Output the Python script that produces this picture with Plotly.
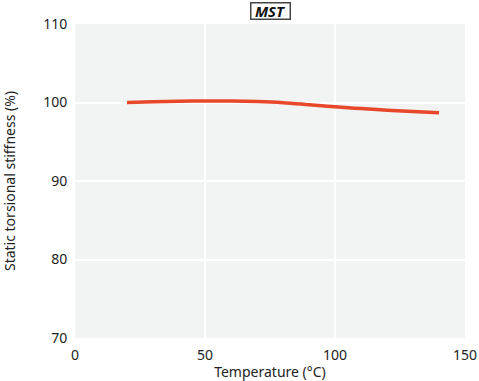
import plotly.graph_objects as go

temperature = [20, 30, 40, 50, 60, 70, 80, 90, 100, 110, 120, 130, 140]
stiffness = [100.0, 100.08, 100.15, 100.2, 100.2, 100.13, 99.98, 99.72, 99.45, 99.22, 99.02, 98.85, 98.7]

fig = go.Figure()
fig.add_trace(go.Scatter(
    x=temperature, y=stiffness, mode="lines",
    line=dict(color="#e8472a", width=3.5, shape="spline"),
    showlegend=False,
))

font_family = "Noto Sans, Open Sans, sans-serif"
fig.update_layout(
    width=479, height=381,
    margin=dict(l=75, r=14, t=24, b=43),
    paper_bgcolor="white",
    plot_bgcolor="#f2f3f3",
    font=dict(family=font_family, size=14, color="#222"),
    xaxis=dict(range=[0, 150], tickvals=[0, 50, 100, 150], showgrid=True,
               gridcolor="white", gridwidth=2, zeroline=False, showline=False,
               automargin=False,
               title=dict(text="Temperature (°C)", standoff=0, font=dict(size=14)),
               ticks="outside", ticklen=4, tickcolor="rgba(0,0,0,0)"),
    yaxis=dict(range=[70, 110], tickvals=[70, 80, 90, 100, 110], showgrid=True,
               gridcolor="white", gridwidth=2, zeroline=False, showline=False,
               automargin=False,
               title=dict(text="Static torsional stiffness (%)", standoff=26, font=dict(size=14)),
               ticks="outside", ticklen=4, tickcolor="rgba(0,0,0,0)"),
    annotations=[dict(
        text="<b><i>MST</i></b>", x=0.5, y=1.0, xref="paper", yref="paper",
        xanchor="center", yanchor="bottom", showarrow=False,
        font=dict(size=15, color="#111"), width=38, height=15, valign="middle",
        bordercolor="#444", borderwidth=1.5, borderpad=0, bgcolor="white", yshift=4,
    )],
)

fig.write_html("out.html", config={"displayModeBar": False},
               post_script="document.body.style.margin='0';")
